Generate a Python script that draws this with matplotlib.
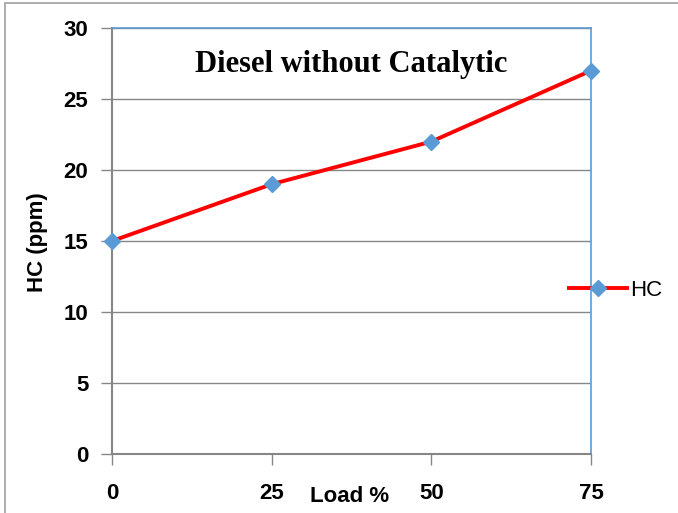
import matplotlib
matplotlib.use("Agg")
from matplotlib import pyplot as plt
from matplotlib.patches import Rectangle

# data
load = [0, 25, 50, 75]
hc = [15, 19, 22, 27]
yticks = [0, 5, 10, 15, 20, 25, 30]

W, H = 678, 513
fig = plt.figure(figsize=(W / 100, H / 100), dpi=100)

# plot area in pixels
left, right, top, bottom = 112, 591, 28, 454
ax = fig.add_axes([left / W, 1 - bottom / H, (right - left) / W, (bottom - top) / H])

grey = '#868686'
blue = '#5B9BD5'
lab_font = ['Liberation Sans', 'DejaVu Sans']

ax.set_xlim(0, 75)
ax.set_ylim(0, 30)
ax.set_xticks(load)
ax.set_yticks(yticks)
ax.grid(axis='y', color=grey, linewidth=1.0)
ax.set_axisbelow(True)

for s in ['top', 'right']:
    ax.spines[s].set_color(blue)
    ax.spines[s].set_linewidth(1.2)
for s in ['left', 'bottom']:
    ax.spines[s].set_color(grey)
    ax.spines[s].set_linewidth(1.5)

ax.tick_params(axis='both', direction='out', length=8, width=1, color=grey)
ax.tick_params(axis='y', pad=9)
ax.tick_params(axis='x', pad=13)
for lbl in ax.get_xticklabels() + ax.get_yticklabels():
    lbl.set_family(lab_font)
    lbl.set_fontweight('bold')
    lbl.set_fontsize(16)

ax.plot(load, hc, color='red', linewidth=2.8, marker='D', markersize=8,
        markerfacecolor=blue, markeredgecolor=blue, label='HC', clip_on=False, zorder=5)

ax.text(0.5, 0.915, 'Diesel without Catalytic', transform=ax.transAxes, ha='center', va='center',
        family=['Liberation Serif', 'DejaVu Serif'], fontweight='bold', fontsize=22)

fig.text(38 / W, 1 - 242 / H, 'HC (ppm)', rotation=90, ha='center', va='center',
         family=lab_font, fontweight='bold', fontsize=16)
fig.text(350 / W, 1 - 497 / H, 'Load %', ha='center', va='center',
         family=lab_font, fontweight='bold', fontsize=16)

leg = fig.legend(loc='center left', bbox_to_anchor=(560 / W, 1 - 290 / H), frameon=False,
                 handlelength=2.6, handletextpad=0.15, borderaxespad=0,
                 prop={'family': lab_font, 'size': 16})

# outer chart border (cut off at right and bottom in the reference)
fig.patches.append(Rectangle((5 / W, -0.1), 1.2, 1 - 3 / H + 0.1, transform=fig.transFigure,
                             fill=False, edgecolor='#a0a0a0', linewidth=1.2))

fig.savefig('out.png', dpi=100)
